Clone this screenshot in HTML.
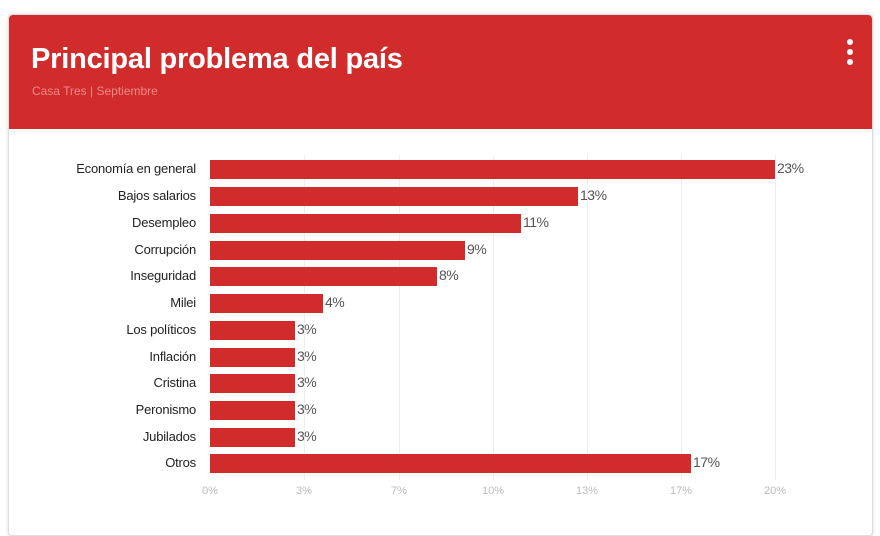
<!DOCTYPE html>
<html><head><meta charset="utf-8"><style>
body{margin:0;width:880px;height:512px;background:#fff;overflow:hidden;font-family:"Liberation Sans",sans-serif;position:relative}
.card{position:absolute;left:8px;top:14px;width:863px;height:520px;border:1px solid #ddd;border-radius:4px;background:#fff;box-shadow:0 1px 3px rgba(0,0,0,.15)}
.hdr{position:absolute;left:0;top:0;width:100%;height:114px;background:#d22b2b;border-radius:4px 4px 0 0}
.t{position:absolute;left:22px;top:28px;color:#fff;font-size:29px;font-weight:bold;letter-spacing:-0.2px}
.s{position:absolute;left:23px;top:69px;color:#f08a8a;font-size:12px}
.dots{position:absolute;left:838px;top:24px}
.dots i{display:block;width:6px;height:6px;border-radius:3px;background:#fff;margin-bottom:4px}
.g{position:absolute;top:155px;width:1px;height:325px;background:#eee}
.b{position:absolute;left:210px;height:19px;background:#d22b2b}
.l{position:absolute;right:684px;font-size:13px;color:#222;text-align:right;white-space:nowrap;letter-spacing:-0.2px}
.v{position:absolute;font-size:14px;color:#555;letter-spacing:-0.5px}
.x{position:absolute;top:485px;font-size:11px;color:#bbb;width:40px;text-align:center;margin-left:-20px}
</style></head><body>
<div class="card"><div class="hdr"><div class="t">Principal problema del país</div><div class="s">Casa Tres | Septiembre</div><div class="dots"><i></i><i></i><i></i></div></div></div>
<div class="g" style="left:304px"></div><div class="g" style="left:399px"></div><div class="g" style="left:493px"></div><div class="g" style="left:587px"></div><div class="g" style="left:681px"></div><div class="g" style="left:775px"></div>
<div class="b" style="top:160px;width:565px"></div><div class="l" style="top:161px">Economía en general</div><div class="v" style="left:777px;top:160px">23%</div>
<div class="b" style="top:187px;width:368px"></div><div class="l" style="top:188px">Bajos salarios</div><div class="v" style="left:580px;top:187px">13%</div>
<div class="b" style="top:214px;width:311px"></div><div class="l" style="top:215px">Desempleo</div><div class="v" style="left:523px;top:214px">11%</div>
<div class="b" style="top:241px;width:255px"></div><div class="l" style="top:242px">Corrupción</div><div class="v" style="left:467px;top:241px">9%</div>
<div class="b" style="top:267px;width:227px"></div><div class="l" style="top:268px">Inseguridad</div><div class="v" style="left:439px;top:267px">8%</div>
<div class="b" style="top:294px;width:113px"></div><div class="l" style="top:295px">Milei</div><div class="v" style="left:325px;top:294px">4%</div>
<div class="b" style="top:321px;width:85px"></div><div class="l" style="top:322px">Los políticos</div><div class="v" style="left:297px;top:321px">3%</div>
<div class="b" style="top:348px;width:85px"></div><div class="l" style="top:349px">Inflación</div><div class="v" style="left:297px;top:348px">3%</div>
<div class="b" style="top:374px;width:85px"></div><div class="l" style="top:375px">Cristina</div><div class="v" style="left:297px;top:374px">3%</div>
<div class="b" style="top:401px;width:85px"></div><div class="l" style="top:402px">Peronismo</div><div class="v" style="left:297px;top:401px">3%</div>
<div class="b" style="top:428px;width:85px"></div><div class="l" style="top:429px">Jubilados</div><div class="v" style="left:297px;top:428px">3%</div>
<div class="b" style="top:454px;width:481px"></div><div class="l" style="top:455px">Otros</div><div class="v" style="left:693px;top:454px">17%</div>
<div class="x" style="left:210px">0%</div><div class="x" style="left:304px">3%</div><div class="x" style="left:399px">7%</div><div class="x" style="left:493px">10%</div><div class="x" style="left:587px">13%</div><div class="x" style="left:681px">17%</div><div class="x" style="left:775px">20%</div>
</body></html>
